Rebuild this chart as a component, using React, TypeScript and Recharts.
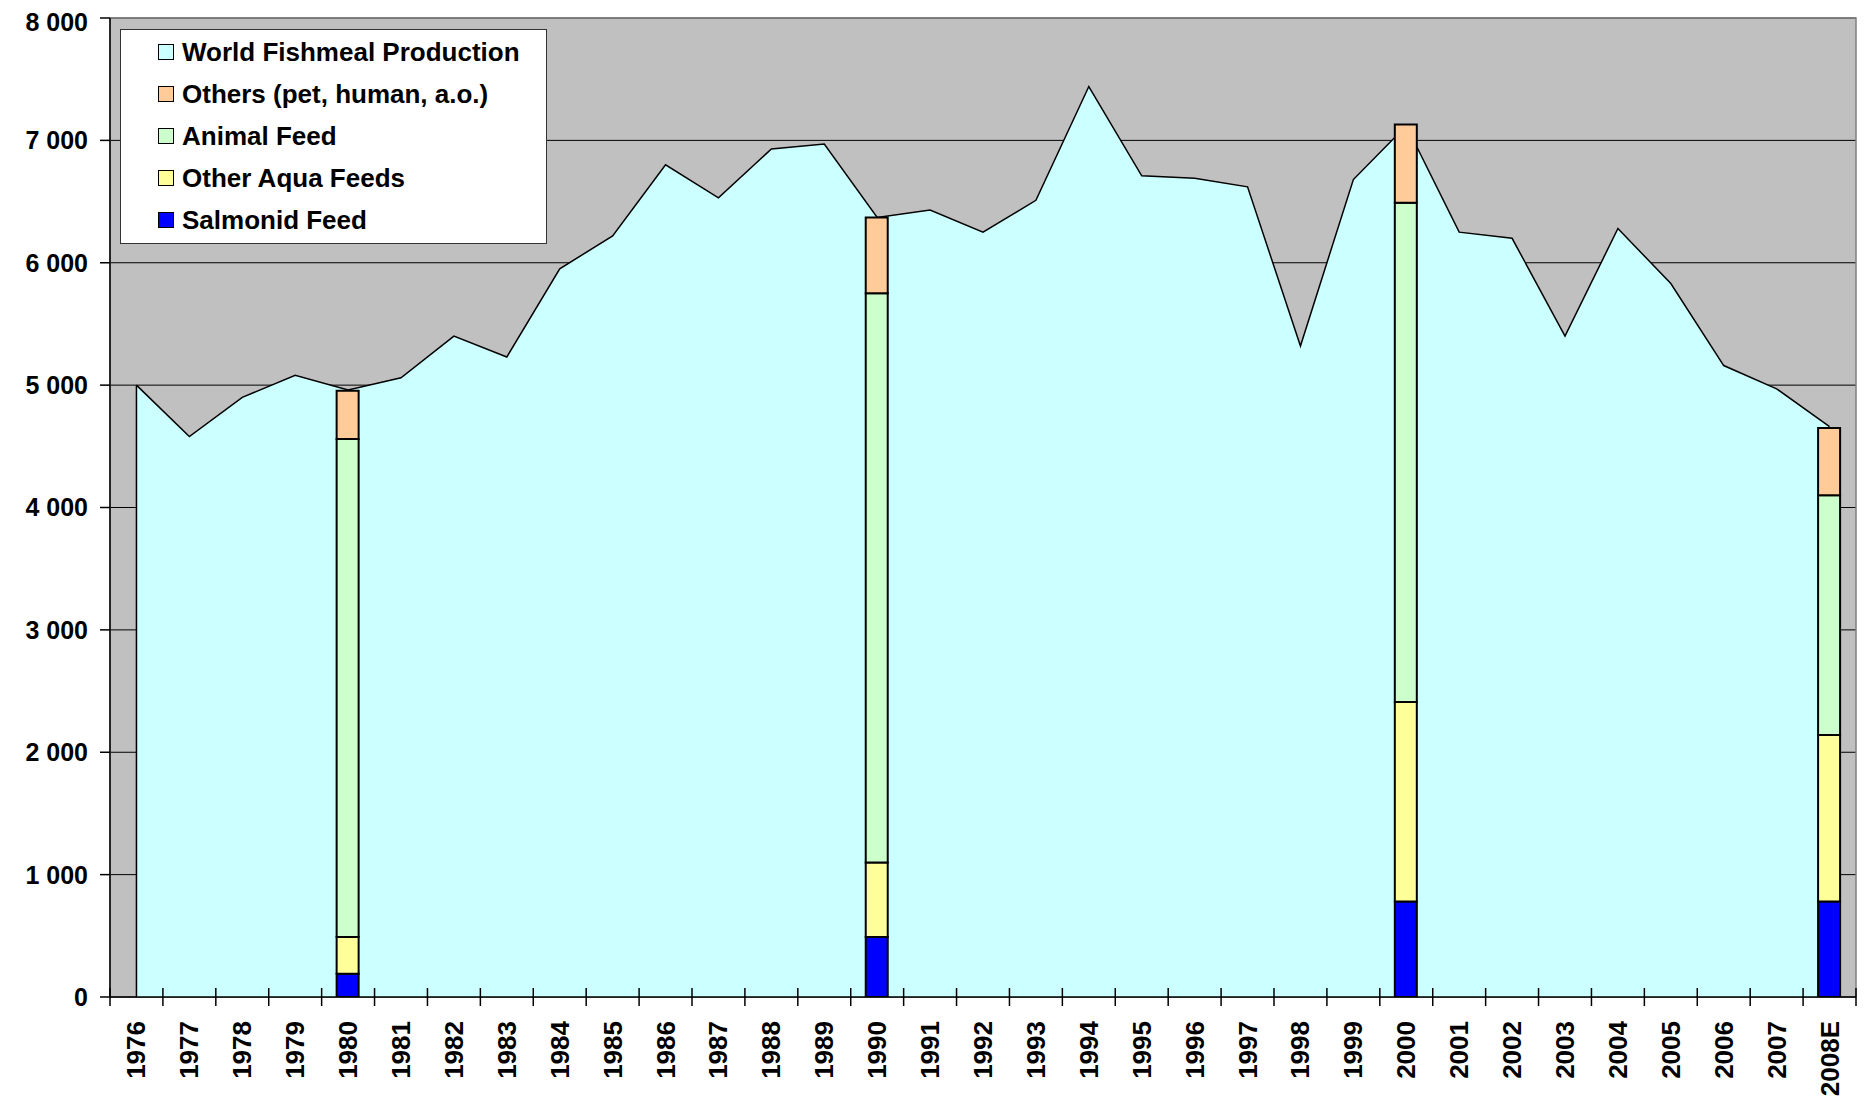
import React from "react";
import {
  Area,
  Bar,
  CartesianGrid,
  ComposedChart,
  ReferenceArea,
  ReferenceLine,
  XAxis,
  YAxis,
} from "recharts";

const FONT = "'Liberation Sans', Arial, sans-serif";

const years = [
  "1976", "1977", "1978", "1979", "1980", "1981", "1982", "1983", "1984", "1985", "1986",
  "1987", "1988", "1989", "1990", "1991", "1992", "1993", "1994", "1995", "1996", "1997",
  "1998", "1999", "2000", "2001", "2002", "2003", "2004", "2005", "2006", "2007", "2008E",
];

// world fishmeal production, '000 t
const world = [
  5000, 4580, 4900, 5080, 4960, 5060, 5400, 5230, 5950, 6220, 6800,
  6530, 6930, 6970, 6370, 6430, 6250, 6510, 7440, 6710, 6690, 6620,
  5320, 6680, 7120, 6250, 6200, 5400, 6280, 5830, 5160, 4970, 4660,
];

// usage breakdown, only for a few years
const barYears = ["1980", "1990", "2000", "2008E"];
const salmonid = [190, 490, 780, 780];
const otherAqua = [300, 610, 1630, 1360];
const animalFeed = [4070, 4650, 4080, 1960];
const others = [395, 620, 640, 550];

const yTicks = [0, 1000, 2000, 3000, 4000, 5000, 6000, 7000, 8000];

const legendItems = [
  { name: "World Fishmeal Production", color: "#CCFFFF" },
  { name: "Others (pet, human, a.o.)", color: "#FFCC99" },
  { name: "Animal Feed", color: "#CCFFCC" },
  { name: "Other Aqua Feeds", color: "#FFFF99" },
  { name: "Salmonid Feed", color: "#0000FF" },
];

const data = years.map((year, i) => {
  const b = barYears.indexOf(year);
  return {
    year,
    world: world[i],
    salmonid: b >= 0 ? salmonid[b] : undefined,
    otherAqua: b >= 0 ? otherAqua[b] : undefined,
    animalFeed: b >= 0 ? animalFeed[b] : undefined,
    others: b >= 0 ? others[b] : undefined,
  };
});

const W = 1852;
const H = 1100;
const Y_W = 102;
const M_RIGHT = 4;
const PLOT_W = W - Y_W - M_RIGHT;
const HALF = PLOT_W / years.length / 2;

const fmt = (v: number) =>
  v >= 1000 ? `${Math.floor(v / 1000)} ${String(v % 1000).padStart(3, "0")}` : String(v);

function XTick(props: any) {
  const { x, y, payload } = props;
  const last = payload.value === years[years.length - 1];
  return (
    <g>
      <line x1={x - HALF} x2={x - HALF} y1={y - 9} y2={y + 9} stroke="#000" strokeWidth={1.5} />
      {last && (
        <line x1={x + HALF} x2={x + HALF} y1={y - 9} y2={y + 9} stroke="#000" strokeWidth={1.5} />
      )}
      <text
        x={x}
        y={y + 24}
        transform={`rotate(-90, ${x}, ${y + 24})`}
        textAnchor="end"
        dominantBaseline="central"
        fontSize={26}
        fontWeight="bold"
        fontFamily={FONT}
        fill="#000"
      >
        {payload.value}
      </text>
    </g>
  );
}

function ChartLegend() {
  return (
    <div
      style={{
        position: "absolute",
        left: 112,
        top: 21,
        width: 427,
        height: 215,
        boxSizing: "border-box",
        background: "#fff",
        border: "1.5px solid #333",
        paddingTop: 1,
        fontFamily: FONT,
        fontWeight: "bold",
        fontSize: 26,
        color: "#000",
      }}
    >
      {legendItems.map((it) => (
        <div
          key={it.name}
          style={{ height: 42, display: "flex", alignItems: "center", paddingLeft: 37 }}
        >
          <span
            style={{
              width: 16,
              height: 16,
              boxSizing: "border-box",
              background: it.color,
              border: "1.5px solid #000",
              marginRight: 8,
              flex: "none",
            }}
          />
          <span style={{ whiteSpace: "nowrap" }}>{it.name}</span>
        </div>
      ))}
    </div>
  );
}

export default function App() {
  return (
    <div style={{ position: "relative", width: W, height: H }}>
      <ComposedChart
        width={W}
        height={H}
        data={data}
        margin={{ top: 10, right: M_RIGHT, left: 0, bottom: 0 }}
        barSize={22}
      >
        <CartesianGrid
          vertical={false}
          fill="#C0C0C0"
          fillOpacity={1}
          stroke="#000"
          strokeWidth={1}
        />
        <XAxis
          dataKey="year"
          interval={0}
          height={111}
          tickSize={0}
          tickMargin={0}
          tickLine={false}
          tick={<XTick />}
          axisLine={{ stroke: "#000", strokeWidth: 1.5 }}
        />
        <YAxis
          width={Y_W}
          domain={[0, 8000]}
          ticks={yTicks}
          tickFormatter={fmt}
          tickSize={10}
          tickMargin={12}
          tick={{ fontSize: 25, fontWeight: "bold", fill: "#000", fontFamily: FONT }}
          tickLine={{ stroke: "#000", strokeWidth: 1.5 }}
          axisLine={{ stroke: "#000", strokeWidth: 1.5 }}
          allowDataOverflow
        />
        <ReferenceArea y1={0} y2={8000} fill="none" stroke="#808080" strokeWidth={1.5} />
        <Area
          type="linear"
          dataKey="world"
          fill="#CCFFFF"
          fillOpacity={1}
          stroke="#000"
          strokeWidth={1.5}
          dot={false}
          activeDot={false}
          isAnimationActive={false}
        />
        <ReferenceLine
          segment={[
            { x: years[0], y: 0 },
            { x: years[0], y: world[0] },
          ]}
          stroke="#000"
          strokeWidth={1.5}
        />
        <Bar dataKey="salmonid" stackId="u" fill="#0000FF" stroke="#000" strokeWidth={2} isAnimationActive={false} />
        <Bar dataKey="otherAqua" stackId="u" fill="#FFFF99" stroke="#000" strokeWidth={2} isAnimationActive={false} />
        <Bar dataKey="animalFeed" stackId="u" fill="#CCFFCC" stroke="#000" strokeWidth={2} isAnimationActive={false} />
        <Bar dataKey="others" stackId="u" fill="#FFCC99" stroke="#000" strokeWidth={2} isAnimationActive={false} />
      </ComposedChart>
      <ChartLegend />
    </div>
  );
}
